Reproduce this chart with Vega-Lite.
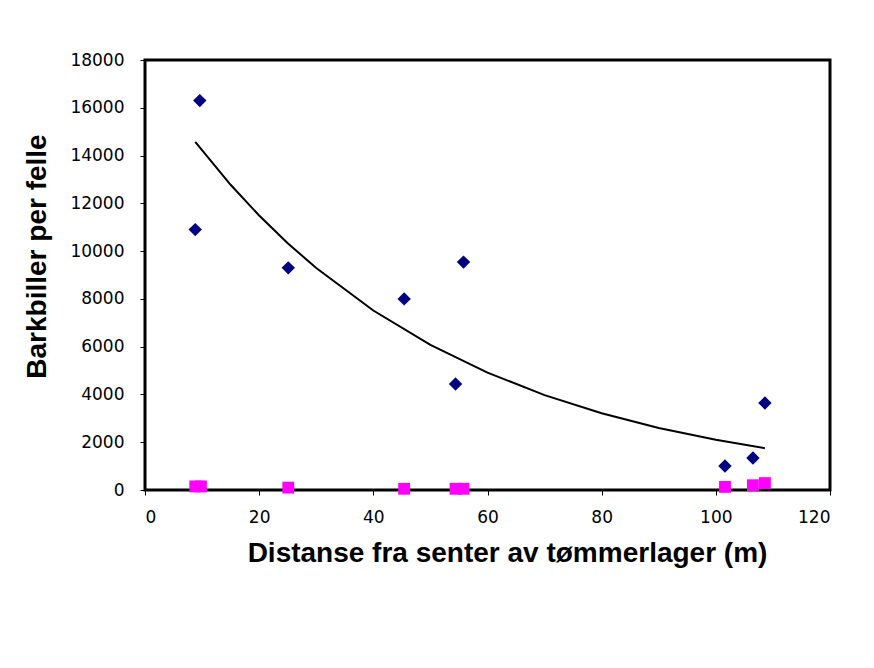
{
  "$schema": "https://vega.github.io/schema/vega-lite/v6.json",
  "autosize": {"type": "none"},
  "width": 685,
  "height": 430,
  "padding": {"left": 145, "top": 60, "right": 44, "bottom": 178},
  "background": "white",
  "config": {
    "view": {"stroke": "black", "strokeWidth": 3},
    "font": "DejaVu Sans",
    "axis": {
      "grid": false,
      "domain": false,
      "tickColor": "black",
      "tickSize": 5,
      "labelColor": "black",
      "labelFontSize": 17,
      "labelFont": "DejaVu Sans",
      "titleFont": "Liberation Sans",
      "titleFontSize": 28,
      "titleFontWeight": "bold",
      "titleColor": "black",
      "format": "d"
    }
  },
  "datasets": {
    "points": [
      {"dist": 8.8, "value": 10900, "serie": "Barkbiller"},
      {"dist": 9.6, "value": 16300, "serie": "Barkbiller"},
      {"dist": 25.1, "value": 9300, "serie": "Barkbiller"},
      {"dist": 45.4, "value": 8000, "serie": "Barkbiller"},
      {"dist": 54.4, "value": 4440, "serie": "Barkbiller"},
      {"dist": 55.8, "value": 9540, "serie": "Barkbiller"},
      {"dist": 101.6, "value": 1005, "serie": "Barkbiller"},
      {"dist": 106.5, "value": 1340, "serie": "Barkbiller"},
      {"dist": 108.6, "value": 3640, "serie": "Barkbiller"},
      {"dist": 8.8, "value": 150, "serie": "Andre"},
      {"dist": 9.8, "value": 150, "serie": "Andre"},
      {"dist": 25.1, "value": 100, "serie": "Andre"},
      {"dist": 45.4, "value": 50, "serie": "Andre"},
      {"dist": 54.4, "value": 50, "serie": "Andre"},
      {"dist": 55.8, "value": 50, "serie": "Andre"},
      {"dist": 101.6, "value": 130, "serie": "Andre"},
      {"dist": 106.5, "value": 200, "serie": "Andre"},
      {"dist": 108.6, "value": 290, "serie": "Andre"}
    ],
    "trend": [
      {"dist": 8.8, "value": 14575},
      {"dist": 15, "value": 12777},
      {"dist": 20, "value": 11489},
      {"dist": 25, "value": 10331},
      {"dist": 30, "value": 9291},
      {"dist": 40, "value": 7513},
      {"dist": 50, "value": 6076},
      {"dist": 60, "value": 4913},
      {"dist": 70, "value": 3973},
      {"dist": 80, "value": 3212},
      {"dist": 90, "value": 2598},
      {"dist": 100, "value": 2101},
      {"dist": 108.6, "value": 1750}
    ]
  },
  "encoding": {
    "x": {
      "field": "dist",
      "type": "quantitative",
      "scale": {"domain": [0, 120], "nice": false, "zero": false},
      "axis": {
        "title": "Distanse fra senter av tømmerlager (m)",
        "values": [0, 20, 40, 60, 80, 100, 120],
        "labelPadding": 14,
        "titlePadding": 14,
        "titleX": 362
      }
    },
    "y": {
      "field": "value",
      "type": "quantitative",
      "scale": {"domain": [0, 18000], "nice": false},
      "axis": {
        "title": "Barkbiller per felle",
        "values": [0, 2000, 4000, 6000, 8000, 10000, 12000, 14000, 16000, 18000],
        "labelPadding": 16,
        "titlePadding": 18,
        "titleY": 196
      }
    }
  },
  "layer": [
    {
      "data": {"name": "trend"},
      "mark": {"type": "line", "color": "black", "strokeWidth": 2}
    },
    {
      "data": {"name": "points"},
      "mark": {"type": "point", "filled": true, "opacity": 1},
      "encoding": {
        "shape": {
          "field": "serie",
          "type": "nominal",
          "scale": {"domain": ["Barkbiller", "Andre"], "range": ["diamond", "square"]},
          "legend": null
        },
        "color": {
          "field": "serie",
          "type": "nominal",
          "scale": {"domain": ["Barkbiller", "Andre"], "range": ["#000080", "#FF00FF"]},
          "legend": null
        },
        "size": {
          "field": "serie",
          "type": "nominal",
          "scale": {"domain": ["Barkbiller", "Andre"], "range": [180, 140]},
          "legend": null
        }
      }
    }
  ]
}
